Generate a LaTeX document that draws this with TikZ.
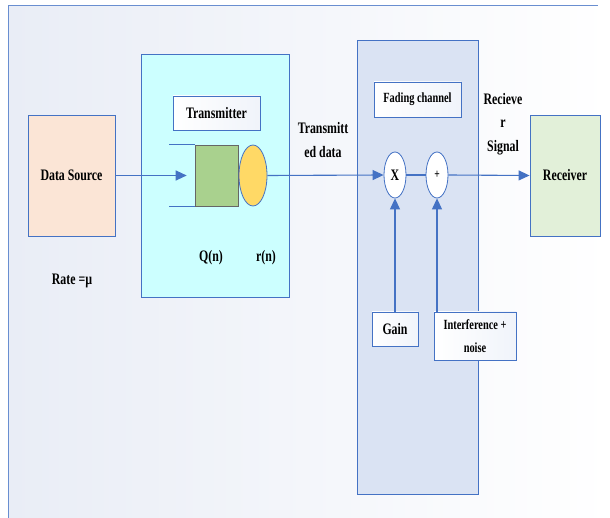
\documentclass[tikz,border=0pt]{standalone}
\usepackage{fontspec}
\setmainfont{Liberation Serif}[FakeStretch=0.74]
\usetikzlibrary{shapes.geometric,arrows.meta}
\definecolor{lineblue}{HTML}{4472C4}
\definecolor{srcfill}{HTML}{FBE5D6}
\definecolor{txfill}{HTML}{CCFFFF}
\definecolor{fcfill}{HTML}{DAE3F3}
\definecolor{rxfill}{HTML}{E2F0D9}
\definecolor{qfill}{HTML}{A9D18E}
\definecolor{rfill}{HTML}{FFD966}
\definecolor{bgtl}{HTML}{E9EDF6}
\tikzset{
  every node/.style={font=\bfseries\fontsize{16}{23.5}\selectfont, text=black},
  blk/.style={draw=lineblue, line width=0.9pt, rectangle, inner sep=0pt},
  lbl/.style={draw=lineblue, line width=0.9pt, rectangle, inner sep=0pt, left color=white, right color=fcfill!40},
  oval/.style={draw=lineblue, line width=0.8pt, ellipse, inner sep=0pt, fill=white},
  conn/.style={draw=lineblue, line width=1.1pt},
  arr/.style={conn, -{Triangle[length=11pt,width=10pt]}},
  txt/.style={align=center, inner sep=0pt}
}
\begin{document}
\begin{tikzpicture}[x=1pt,y=-1pt]
\useasboundingbox (0,0) rectangle (610,518);
% background frame
\shade[shading angle=135, left color=bgtl, right color=white] (8,6) rectangle (610,518);
\draw[lineblue!80, line width=1pt] (8,518) -- (8,6) -- (598,6);
% regions
\node[blk, fill=txfill, minimum width=148pt, minimum height=243pt] (tx) at (215,175.5) {};
\node[blk, fill=fcfill, minimum width=121pt, minimum height=454pt] (fc) at (417.5,267) {};
% blocks
\node[blk, fill=srcfill, minimum width=87pt, minimum height=121pt] (src) at (71.5,175.5) {Data Source};
\node[blk, fill=rxfill, minimum width=70pt, minimum height=121pt] (rx) at (565,175.5) {Receiver};
\node[lbl, minimum width=87pt, minimum height=34pt] (txlabel) at (216.5,113) {Transmitter};
\node[lbl, minimum width=87pt, minimum height=35pt] (fclabel) at (417.5,99.5) {\fontsize{14}{16}\selectfont Fading channel};
% queue
\node[draw=black!60, line width=0.6pt, fill=qfill, rectangle, minimum width=43pt, minimum height=61pt, inner sep=0pt] (q) at (216.5,175.5) {};
\draw[lineblue, line width=0.9pt] (q.north west) -- ++(-26,0);
\draw[lineblue, line width=0.9pt] (q.south west) -- ++(-26,0);
\node[draw=lineblue, line width=0.8pt, fill=rfill, ellipse, minimum width=28pt, minimum height=61pt, inner sep=0pt] (r) at (253,175.5) {};
% channel operators
\node[oval, minimum width=22pt, minimum height=46pt] (mul) at (395,175) {X};
\node[oval, minimum width=22pt, minimum height=46pt] (add) at (437,175) {\fontsize{13}{15}\selectfont +};
\node[lbl, minimum width=46pt, minimum height=34pt] (gain) at (395,329) {Gain};
\node[lbl, minimum width=82pt, minimum height=48pt, align=center] (noise) at (475,336) {\fontsize{14}{21}\selectfont Interference +\\\fontsize{14}{21}\selectfont noise};
% labels
\node[txt] (qlab) at (211,258) {Q(n)};
\node[txt] (rlab) at (266,258) {r(n)};
\node[txt] (rate) at (72,281) {Rate =\textmu};
\node[txt] (tdata) at (323,140) {Transmitt\\ed data};
\node[txt] (rsig) at (503,124) {Recieve\\r\\Signal};
% connectors
\draw[arr] (src.east) -- ([xshift=-8pt]q.west);
\draw[arr] (r.east) -- (mul.west);
\draw[conn] (mul.east) -- (add.west);
\draw[arr] (add.east) -- (rx.west);
\draw[arr] (gain.north) -- (mul.south);
\draw[arr] (noise.north -| add.south) -- (add.south);
\end{tikzpicture}
\end{document}
